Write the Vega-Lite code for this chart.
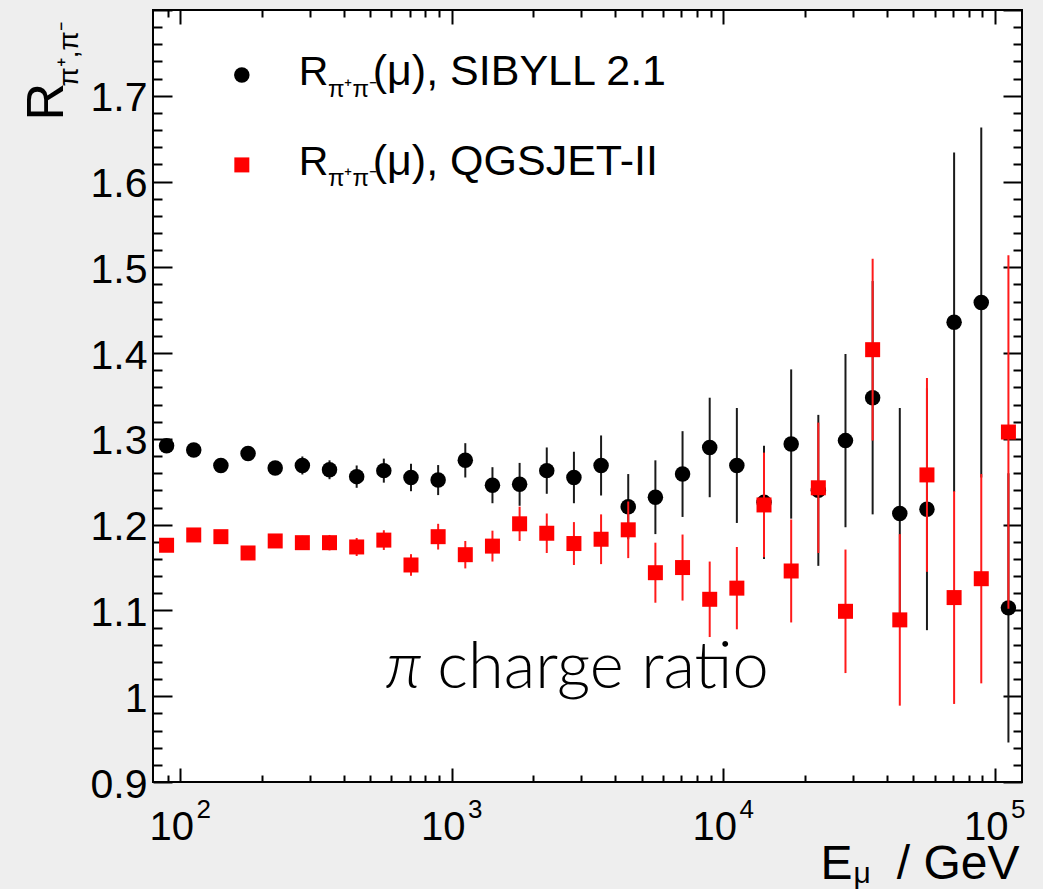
{
  "$schema": "https://vega.github.io/schema/vega-lite/v6.json",
  "width": 869,
  "height": 772,
  "autosize": {"type": "none"},
  "padding": {"left": 153, "top": 10, "right": 21, "bottom": 107},
  "background": "#eeeeee",
  "config": {
    "view": {"stroke": "#000000", "strokeWidth": 2, "fill": "#ffffff"},
    "font": "Liberation Sans"
  },
  "datasets": {
    "pts": [
      {"series": "SIBYLL 2.1", "E": 89.125, "R": 1.292, "err": 0.004},
      {"series": "SIBYLL 2.1", "E": 112.2, "R": 1.287, "err": 0.004},
      {"series": "SIBYLL 2.1", "E": 141.25, "R": 1.269, "err": 0.005},
      {"series": "SIBYLL 2.1", "E": 177.83, "R": 1.283, "err": 0.006},
      {"series": "SIBYLL 2.1", "E": 223.87, "R": 1.266, "err": 0.008},
      {"series": "SIBYLL 2.1", "E": 281.84, "R": 1.269, "err": 0.0105},
      {"series": "SIBYLL 2.1", "E": 354.81, "R": 1.264, "err": 0.011},
      {"series": "SIBYLL 2.1", "E": 446.68, "R": 1.256, "err": 0.013},
      {"series": "SIBYLL 2.1", "E": 562.34, "R": 1.263, "err": 0.014},
      {"series": "SIBYLL 2.1", "E": 707.95, "R": 1.255, "err": 0.016},
      {"series": "SIBYLL 2.1", "E": 891.25, "R": 1.252, "err": 0.0175},
      {"series": "SIBYLL 2.1", "E": 1122.0, "R": 1.275, "err": 0.02},
      {"series": "SIBYLL 2.1", "E": 1412.5, "R": 1.246, "err": 0.021},
      {"series": "SIBYLL 2.1", "E": 1778.3, "R": 1.247, "err": 0.025},
      {"series": "SIBYLL 2.1", "E": 2238.7, "R": 1.263, "err": 0.027},
      {"series": "SIBYLL 2.1", "E": 2818.4, "R": 1.255, "err": 0.03},
      {"series": "SIBYLL 2.1", "E": 3548.1, "R": 1.269, "err": 0.035},
      {"series": "SIBYLL 2.1", "E": 4466.8, "R": 1.221, "err": 0.038},
      {"series": "SIBYLL 2.1", "E": 5623.4, "R": 1.232, "err": 0.043},
      {"series": "SIBYLL 2.1", "E": 7079.5, "R": 1.259, "err": 0.05},
      {"series": "SIBYLL 2.1", "E": 8912.5, "R": 1.29, "err": 0.058},
      {"series": "SIBYLL 2.1", "E": 11220, "R": 1.269, "err": 0.067},
      {"series": "SIBYLL 2.1", "E": 14125, "R": 1.226, "err": 0.066},
      {"series": "SIBYLL 2.1", "E": 17783, "R": 1.294, "err": 0.087},
      {"series": "SIBYLL 2.1", "E": 22387, "R": 1.24, "err": 0.088},
      {"series": "SIBYLL 2.1", "E": 28184, "R": 1.298, "err": 0.101},
      {"series": "SIBYLL 2.1", "E": 35481, "R": 1.348, "err": 0.136},
      {"series": "SIBYLL 2.1", "E": 44668, "R": 1.213, "err": 0.123},
      {"series": "SIBYLL 2.1", "E": 56234, "R": 1.218, "err": 0.141},
      {"series": "SIBYLL 2.1", "E": 70795, "R": 1.436, "err": 0.198},
      {"series": "SIBYLL 2.1", "E": 89125, "R": 1.459, "err": 0.204},
      {"series": "SIBYLL 2.1", "E": 112202, "R": 1.103, "err": 0.157},
      {"series": "QGSJET-II", "E": 89.125, "R": 1.176, "err": 0.005},
      {"series": "QGSJET-II", "E": 112.2, "R": 1.188, "err": 0.005},
      {"series": "QGSJET-II", "E": 141.25, "R": 1.186, "err": 0.006},
      {"series": "QGSJET-II", "E": 177.83, "R": 1.167, "err": 0.006},
      {"series": "QGSJET-II", "E": 223.87, "R": 1.181, "err": 0.007},
      {"series": "QGSJET-II", "E": 281.84, "R": 1.179, "err": 0.008},
      {"series": "QGSJET-II", "E": 354.81, "R": 1.179, "err": 0.009},
      {"series": "QGSJET-II", "E": 446.68, "R": 1.174, "err": 0.0105},
      {"series": "QGSJET-II", "E": 562.34, "R": 1.182, "err": 0.0115},
      {"series": "QGSJET-II", "E": 707.95, "R": 1.153, "err": 0.0126},
      {"series": "QGSJET-II", "E": 891.25, "R": 1.186, "err": 0.015},
      {"series": "QGSJET-II", "E": 1122.0, "R": 1.165, "err": 0.016},
      {"series": "QGSJET-II", "E": 1412.5, "R": 1.175, "err": 0.018},
      {"series": "QGSJET-II", "E": 1778.3, "R": 1.201, "err": 0.02},
      {"series": "QGSJET-II", "E": 2238.7, "R": 1.19, "err": 0.023},
      {"series": "QGSJET-II", "E": 2818.4, "R": 1.178, "err": 0.025},
      {"series": "QGSJET-II", "E": 3548.1, "R": 1.183, "err": 0.029},
      {"series": "QGSJET-II", "E": 4466.8, "R": 1.194, "err": 0.033},
      {"series": "QGSJET-II", "E": 5623.4, "R": 1.144, "err": 0.035},
      {"series": "QGSJET-II", "E": 7079.5, "R": 1.15, "err": 0.0385},
      {"series": "QGSJET-II", "E": 8912.5, "R": 1.113, "err": 0.044},
      {"series": "QGSJET-II", "E": 11220, "R": 1.126, "err": 0.048},
      {"series": "QGSJET-II", "E": 14125, "R": 1.223, "err": 0.061},
      {"series": "QGSJET-II", "E": 17783, "R": 1.146, "err": 0.06},
      {"series": "QGSJET-II", "E": 22387, "R": 1.243, "err": 0.076},
      {"series": "QGSJET-II", "E": 28184, "R": 1.099, "err": 0.072},
      {"series": "QGSJET-II", "E": 35481, "R": 1.404, "err": 0.106},
      {"series": "QGSJET-II", "E": 44668, "R": 1.089, "err": 0.1},
      {"series": "QGSJET-II", "E": 56234, "R": 1.258, "err": 0.113},
      {"series": "QGSJET-II", "E": 70795, "R": 1.115, "err": 0.124},
      {"series": "QGSJET-II", "E": 89125, "R": 1.137, "err": 0.122},
      {"series": "QGSJET-II", "E": 112202, "R": 1.308, "err": 0.206}
    ]
  },
  "resolve": {"axis": {"x": "independent", "y": "independent"}},
  "layer": [
    {
      "data": {"name": "pts"},
      "transform": [{"filter": "datum.series == 'SIBYLL 2.1'"}],
      "mark": {"type": "errorbar", "color": "#1a1a1a", "thickness": 2},
      "encoding": {
        "x": {
          "field": "E", "type": "quantitative",
          "scale": {"type": "log", "domain": [79.43, 125893], "nice": false},
          "axis": {
            "orient": "bottom",
            "values": [90,100,200,300,400,500,600,700,800,900,1000,2000,3000,4000,5000,6000,7000,8000,9000,10000,20000,30000,40000,50000,60000,70000,80000,90000,100000],
            "labelExpr": "datum.value == 100 || datum.value == 1000 || datum.value == 10000 || datum.value == 100000 ? '10' : ''",
            "tickSize": {"condition": {"test": "datum.value == 100 || datum.value == 1000 || datum.value == 10000 || datum.value == 100000", "value": -14}, "value": -7},
            "tickColor": "#000000", "tickWidth": 2,
            "domain": false, "grid": false,
            "labelFont": "Liberation Sans", "labelFontSize": 40, "labelColor": "#000000",
            "labelBaseline": "alphabetic", "labelAlign": "center",
            "labelPadding": 71.5, "labelOffset": -9,
            "labelFlush": false, "labelOverlap": false, "labelBound": false,
            "title": "E", "titleFont": "Liberation Sans", "titleFontSize": 48, "titleFontWeight": "normal", "titleColor": "#000000",
            "titleX": 667, "titleY": 96, "titleAlign": "left", "titleBaseline": "alphabetic", "titleAngle": 0
          }
        },
        "y": {
          "field": "R", "type": "quantitative",
          "scale": {"domain": [0.9, 1.8], "nice": false, "zero": false},
          "axis": {
            "orient": "left",
            "values": [0.9,0.92,0.94,0.96,0.98,1,1.02,1.04,1.06,1.08,1.1,1.12,1.14,1.16,1.18,1.2,1.22,1.24,1.26,1.28,1.3,1.32,1.34,1.36,1.38,1.4,1.42,1.44,1.46,1.48,1.5,1.52,1.54,1.56,1.58,1.6,1.62,1.64,1.66,1.68,1.7,1.72,1.74,1.76,1.78,1.8],
            "labelExpr": "abs(datum.value*10 - round(datum.value*10)) < 0.001 && datum.value < 1.75 ? (datum.value == 1 ? '1' : format(datum.value, '.1f')) : ''",
            "tickSize": {"condition": {"test": "abs(datum.value*10 - round(datum.value*10)) < 0.001", "value": -19}, "value": -9},
            "tickColor": "#000000", "tickWidth": 2,
            "domain": false, "grid": false,
            "labelFont": "Liberation Sans", "labelFontSize": 41, "labelColor": "#000000",
            "labelBaseline": "middle", "labelAlign": "right",
            "labelPadding": 25, "labelOffset": 3,
            "labelFlush": false, "labelOverlap": false, "labelBound": false,
            "title": "R", "titleFont": "Liberation Sans", "titleFontSize": 52, "titleFontWeight": "normal", "titleColor": "#000000",
            "titleX": -91, "titleY": 110, "titleAlign": "left", "titleBaseline": "alphabetic", "titleAngle": -90
          }
        },
        "yError": {"field": "err"}
      }
    },
    {
      "data": {"name": "pts"},
      "transform": [{"filter": "datum.series == 'SIBYLL 2.1'"}],
      "mark": {"type": "point", "shape": "circle", "filled": true, "size": 240, "color": "#000000", "opacity": 1},
      "encoding": {
        "x": {
          "field": "E", "type": "quantitative",
          "axis": {
            "orient": "bottom",
            "values": [100, 1000, 10000, 100000],
            "ticks": false, "tickSize": 0, "domain": false, "grid": false,
            "labelExpr": "datum.value == 100 ? '2' : datum.value == 1000 ? '3' : datum.value == 10000 ? '4' : '5'",
            "labelFont": "Liberation Sans", "labelFontSize": 26, "labelColor": "#000000",
            "labelBaseline": "alphabetic", "labelAlign": "center",
            "labelPadding": 35.5, "labelOffset": 23,
            "labelFlush": false, "labelOverlap": false, "labelBound": false,
            "title": "μ", "titleFont": "Liberation Sans", "titleFontSize": 30, "titleFontWeight": "normal", "titleColor": "#000000",
            "titleX": 700, "titleY": 100, "titleAlign": "left", "titleBaseline": "alphabetic", "titleAngle": 0
          }
        },
        "y": {
          "field": "R", "type": "quantitative",
          "axis": {
            "orient": "right",
            "values": [0.9,0.92,0.94,0.96,0.98,1,1.02,1.04,1.06,1.08,1.1,1.12,1.14,1.16,1.18,1.2,1.22,1.24,1.26,1.28,1.3,1.32,1.34,1.36,1.38,1.4,1.42,1.44,1.46,1.48,1.5,1.52,1.54,1.56,1.58,1.6,1.62,1.64,1.66,1.68,1.7,1.72,1.74,1.76,1.78,1.8],
            "labels": false, "domain": false, "grid": false, "title": null,
            "tickSize": {"condition": {"test": "abs(datum.value*10 - round(datum.value*10)) < 0.001", "value": -19}, "value": -9},
            "tickColor": "#000000", "tickWidth": 2
          }
        }
      }
    },
    {
      "data": {"name": "pts"},
      "transform": [{"filter": "datum.series == 'QGSJET-II'"}],
      "mark": {"type": "errorbar", "color": "#ff1a1a", "thickness": 2},
      "encoding": {
        "x": {
          "field": "E", "type": "quantitative",
          "axis": {
            "orient": "top",
            "values": [90,100,200,300,400,500,600,700,800,900,1000,2000,3000,4000,5000,6000,7000,8000,9000,10000,20000,30000,40000,50000,60000,70000,80000,90000,100000],
            "labels": false, "domain": false, "grid": false, "title": null,
            "tickSize": {"condition": {"test": "datum.value == 100 || datum.value == 1000 || datum.value == 10000 || datum.value == 100000", "value": -14}, "value": -7},
            "tickColor": "#000000", "tickWidth": 2
          }
        },
        "y": {"field": "R", "type": "quantitative", "axis": null},
        "yError": {"field": "err"}
      }
    },
    {
      "data": {"name": "pts"},
      "transform": [{"filter": "datum.series == 'QGSJET-II'"}],
      "mark": {"type": "point", "shape": "square", "filled": true, "size": 225, "color": "#ff0000", "opacity": 1},
      "encoding": {
        "x": {
          "field": "E", "type": "quantitative",
          "axis": {
            "orient": "bottom", "labels": false, "ticks": false, "domain": false, "grid": false,
            "title": "/ GeV", "titleFont": "Liberation Sans", "titleFontSize": 48, "titleFontWeight": "normal", "titleColor": "#000000",
            "titleX": 866, "titleY": 96, "titleAlign": "right", "titleBaseline": "alphabetic", "titleAngle": 0
          }
        },
        "y": {
          "field": "R", "type": "quantitative",
          "axis": {
            "orient": "left", "labels": false, "ticks": false, "domain": false, "grid": false,
            "title": "π⁺,π⁻", "titleFont": "Liberation Sans", "titleFontSize": 28, "titleFontWeight": "normal", "titleColor": "#000000",
            "titleX": -76, "titleY": 76, "titleAlign": "left", "titleBaseline": "alphabetic", "titleAngle": -90
          }
        }
      }
    },
    {
      "data": {"values": [{}]},
      "mark": {"type": "point", "shape": "circle", "filled": true, "size": 240, "color": "#000000", "opacity": 1},
      "encoding": {
        "x": {"datum": 168.7, "type": "quantitative", "axis": null},
        "y": {"datum": 1.7243, "type": "quantitative", "axis": null}
      }
    },
    {
      "data": {"values": [{}]},
      "mark": {"type": "point", "shape": "square", "filled": true, "size": 225, "color": "#ff0000", "opacity": 1},
      "encoding": {
        "x": {"datum": 168.7, "type": "quantitative", "axis": null},
        "y": {"datum": 1.6194, "type": "quantitative", "axis": null}
      }
    },
    {
      "data": {"values": [{}]},
      "mark": {"type": "text", "text": "R", "font": "Liberation Sans", "fontSize": 41, "align": "left", "baseline": "alphabetic", "color": "#000000"},
      "encoding": {
        "x": {"datum": 273.5, "type": "quantitative", "axis": null},
        "y": {"datum": 1.7127, "type": "quantitative", "axis": null}
      }
    },
    {
      "data": {"values": [{}]},
      "mark": {"type": "text", "text": "π⁺π⁻", "font": "Liberation Sans", "fontSize": 24, "align": "left", "baseline": "alphabetic", "color": "#000000"},
      "encoding": {
        "x": {"datum": 350, "type": "quantitative", "axis": null},
        "y": {"datum": 1.6987, "type": "quantitative", "axis": null}
      }
    },
    {
      "data": {"values": [{}]},
      "mark": {"type": "text", "text": "(μ), SIBYLL 2.1", "font": "Liberation Sans", "fontSize": 43, "align": "left", "baseline": "alphabetic", "color": "#000000"},
      "encoding": {
        "x": {"datum": 512, "type": "quantitative", "axis": null},
        "y": {"datum": 1.7127, "type": "quantitative", "axis": null}
      }
    },
    {
      "data": {"values": [{}]},
      "mark": {"type": "text", "text": "R", "font": "Liberation Sans", "fontSize": 41, "align": "left", "baseline": "alphabetic", "color": "#000000"},
      "encoding": {
        "x": {"datum": 273.5, "type": "quantitative", "axis": null},
        "y": {"datum": 1.6078, "type": "quantitative", "axis": null}
      }
    },
    {
      "data": {"values": [{}]},
      "mark": {"type": "text", "text": "π⁺π⁻", "font": "Liberation Sans", "fontSize": 24, "align": "left", "baseline": "alphabetic", "color": "#000000"},
      "encoding": {
        "x": {"datum": 350, "type": "quantitative", "axis": null},
        "y": {"datum": 1.5948, "type": "quantitative", "axis": null}
      }
    },
    {
      "data": {"values": [{}]},
      "mark": {"type": "text", "text": "(μ), QGSJET-II", "font": "Liberation Sans", "fontSize": 43, "align": "left", "baseline": "alphabetic", "color": "#000000"},
      "encoding": {
        "x": {"datum": 512, "type": "quantitative", "axis": null},
        "y": {"datum": 1.6078, "type": "quantitative", "axis": null}
      }
    },
    {
      "data": {"values": [{}]},
      "mark": {"type": "text", "text": "π", "font": "Lato", "fontSize": 65, "fontStyle": "italic", "fontWeight": 300, "align": "left", "baseline": "alphabetic", "color": "#000000"},
      "encoding": {
        "x": {"datum": 571.5, "type": "quantitative", "axis": null},
        "y": {"datum": 1.0101, "type": "quantitative", "axis": null}
      }
    },
    {
      "data": {"values": [{}]},
      "mark": {"type": "text", "text": "charge ratio", "font": "Lato", "fontSize": 65, "fontWeight": 300, "align": "left", "baseline": "alphabetic", "color": "#000000"},
      "encoding": {
        "x": {"datum": 885, "type": "quantitative", "axis": null},
        "y": {"datum": 1.0101, "type": "quantitative", "axis": null}
      }
    }
  ]
}
